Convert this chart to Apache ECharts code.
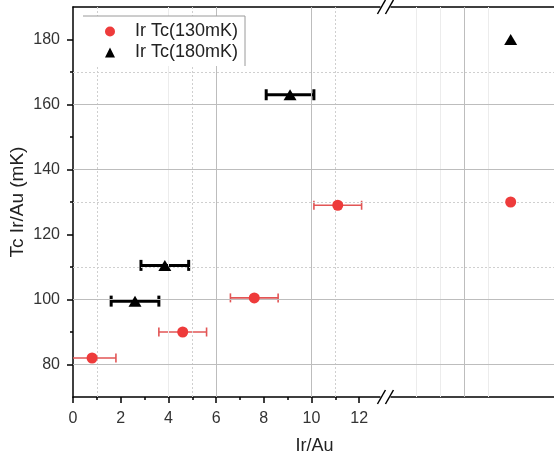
<!DOCTYPE html>
<html>
<head>
<meta charset="utf-8">
<script src="https://cdn.jsdelivr.net/npm/echarts@6/dist/echarts.min.js"></script>
<style>html,body{margin:0;padding:0;background:#fff;}#c{width:554px;height:461px;}</style>
</head>
<body>
<div id="c"></div>
<script>
// ---- data ----
const xTickValues = [0, 2, 4, 6, 8, 10, 12];
const xMinorTicks = [1, 3, 5, 7, 9, 11];
const yTickValues = [80, 100, 120, 140, 160, 180];
const yMinorTicks = [90, 110, 130, 150, 170];
const seriesNames = ['Ir Tc(130mK)', 'Ir Tc(180mK)'];
const redX = [0.8, 4.6, 7.6, 11.1, 18.35];
const redY = [82, 90, 100.5, 129, 130];
const redXErr = [1.0, 1.0, 1.0, 1.0, 0];
const blackX = [2.6, 3.85, 9.1, 18.35];
const blackY = [99.5, 110.5, 163, 180];
const blackXErr = [1.0, 1.0, 1.0, 0];
const xBreakAt = 13.1;
const gridSolidX = [6, 10, 16.4];
const gridDottedX = [1, 5, 11];
const gridFaintX = [4, 14.4, 15.4, 17.4];
const gridSolidY = [80, 100, 140, 160];
const gridDottedY = [110, 130, 170];

const font = '"Liberation Sans", Arial, sans-serif';
const chart = echarts.init(document.getElementById('c'));

function errItem(color, width, capH) {
  return function (params, api) {
    const e = api.value(2);
    if (!e) return null;
    const y = api.value(1), x = api.value(0);
    const p0 = api.coord([x - e, y]);
    const p1 = api.coord([x + e, y]);
    const st = { stroke: color, lineWidth: width };
    return {
      type: 'group',
      children: [
        { type: 'line', shape: { x1: p0[0], y1: p0[1], x2: p1[0], y2: p1[1] }, style: st },
        { type: 'line', shape: { x1: p0[0], y1: p0[1] - capH, x2: p0[0], y2: p0[1] + capH }, style: st },
        { type: 'line', shape: { x1: p1[0], y1: p1[1] - capH, x2: p1[0], y2: p1[1] + capH }, style: st }
      ]
    };
  };
}

const mlSolid = { lineStyle: { color: '#bdbdbd', width: 1, type: 'solid' } };
const mlDot = { lineStyle: { color: '#cfcfcf', width: 1, type: [2, 2] } };
const mlFaint = { lineStyle: { color: '#ececec', width: 1, type: 'solid' } };
const gridLines = []
  .concat(gridSolidX.map(v => Object.assign({ xAxis: v }, mlSolid)))
  .concat(gridDottedX.map(v => Object.assign({ xAxis: v }, mlDot)))
  .concat(gridFaintX.map(v => Object.assign({ xAxis: v }, mlFaint)))
  .concat(gridSolidY.map(v => Object.assign({ yAxis: v }, mlSolid)))
  .concat(gridDottedY.map(v => Object.assign({ yAxis: v }, mlDot)));

const option = {
  backgroundColor: '#fff',
  animation: false,
  textStyle: { fontFamily: font },
  grid: { left: 73, top: 7, right: -2, bottom: 64, outerBoundsMode: 'none', containLabel: false },
  legend: {
    left: 105, top: 21,
    orient: 'vertical',
    data: [
      { name: seriesNames[0], icon: 'circle', itemStyle: { color: '#ee3b3b' } },
      { name: seriesNames[1], icon: 'triangle', itemStyle: { color: '#000' } }
    ],
    itemWidth: 10, itemHeight: 10, itemGap: 0,
    padding: 0,
    textStyle: { fontSize: 18, color: '#222', lineHeight: 21, padding: [0, 0, 0, 15], fontFamily: font },
    selectedMode: false,
    z: 20
  },
  xAxis: [
    {
      type: 'value', min: 0, max: 20.25, position: 'bottom',
      name: 'Ir/Au', nameLocation: 'middle', nameGap: 40, nameMoveOverlap: false,
      nameTextStyle: { fontSize: 18, color: '#222', fontFamily: font },
      axisLine: { show: true, lineStyle: { color: '#000', width: 1.5 } },
      axisTick: { show: true, inside: false, length: 6, customValues: xTickValues, lineStyle: { color: '#000', width: 1.5 } },
      axisLabel: { show: true, customValues: xTickValues, margin: 14, fontSize: 16, color: '#333', fontFamily: font },
      splitLine: { show: false }
    },
    {
      type: 'value', min: 0, max: 20.25, position: 'bottom',
      axisLine: { show: false },
      axisTick: { show: true, inside: false, length: 3, customValues: xMinorTicks, lineStyle: { color: '#000', width: 1.5 } },
      axisLabel: { show: false },
      splitLine: { show: false }
    },
    {
      type: 'value', min: 0, max: 20.25, position: 'top',
      axisLine: { show: true, lineStyle: { color: '#000', width: 1.5 } },
      axisTick: { show: false }, axisLabel: { show: false }, splitLine: { show: false }
    }
  ],
  yAxis: [
    {
      type: 'value', min: 70, max: 190, position: 'left',
      name: 'Tc Ir/Au (mK)', nameLocation: 'middle', nameGap: 46, nameMoveOverlap: false,
      nameTextStyle: { fontSize: 19, color: '#222', fontFamily: font },
      axisLine: { show: true, lineStyle: { color: '#000', width: 1.5 } },
      axisTick: { show: true, inside: false, length: 6, customValues: yTickValues, lineStyle: { color: '#000', width: 1.5 } },
      axisLabel: { show: true, customValues: yTickValues, margin: 13, fontSize: 16, color: '#333', fontFamily: font },
      splitLine: { show: false }
    },
    {
      type: 'value', min: 70, max: 190, position: 'left',
      axisLine: { show: false },
      axisTick: { show: true, inside: false, length: 3, customValues: yMinorTicks, lineStyle: { color: '#000', width: 1.5 } },
      axisLabel: { show: false }, splitLine: { show: false }
    }
  ],
  series: [
    {
      type: 'line', data: [], silent: true, z: 0,
      markLine: { silent: true, symbol: 'none', label: { show: false }, animation: false, data: gridLines }
    },
    {
      type: 'custom', name: 'err130', z: 3, clip: true,
      renderItem: errItem('#e25555', 1.6, 4.5),
      data: redX.map((x, i) => [x, redY[i], redXErr[i]])
    },
    {
      type: 'custom', name: 'err180', z: 3, clip: true,
      renderItem: errItem('#000', 3, 5.5),
      data: blackX.map((x, i) => [x, blackY[i], blackXErr[i]])
    },
    {
      type: 'scatter', name: seriesNames[0], z: 5, symbol: 'circle', symbolSize: 11,
      itemStyle: { color: '#ee3b3b', opacity: 1 },
      data: redX.map((x, i) => [x, redY[i]])
    },
    {
      type: 'scatter', name: seriesNames[1], z: 5, symbol: 'triangle', symbolSize: [13, 11],
      itemStyle: { color: '#000', opacity: 1 },
      data: blackX.map((x, i) => [x, blackY[i]])
    }
  ]
};
chart.setOption(option);

// axis break marks "//" on top and bottom axis lines
function breakMark(px, py) {
  const d = 4;
  return [
    { type: 'rect', shape: { x: px - 5, y: py - 3, width: 10, height: 6 }, style: { fill: '#fff' }, z: 100 },
    { type: 'line', shape: { x1: px - 4 - d, y1: py + 7, x2: px - 4 + d, y2: py - 7 }, style: { stroke: '#000', lineWidth: 1.5 }, z: 101 },
    { type: 'line', shape: { x1: px + 4 - d, y1: py + 7, x2: px + 4 + d, y2: py - 7 }, style: { stroke: '#000', lineWidth: 1.5 }, z: 101 }
  ];
}
const pb = chart.convertToPixel({ xAxisIndex: 0, yAxisIndex: 0 }, [xBreakAt, 70]);
const pt = chart.convertToPixel({ xAxisIndex: 0, yAxisIndex: 0 }, [xBreakAt, 190]);
// legend box: white background, top and right border lines
const legendBox = [
  { type: 'rect', shape: { x: 83, y: 16, width: 162, height: 50 }, style: { fill: '#fff' }, z: 10 },
  { type: 'polyline', shape: { points: [[83, 16], [245, 16], [245, 66]] }, style: { stroke: '#9a9a9a', lineWidth: 1, fill: null }, z: 11 }
];
chart.setOption({ graphic: breakMark(pb[0], pb[1]).concat(breakMark(pt[0], pt[1])).concat(legendBox) });
</script>
</body>
</html>
